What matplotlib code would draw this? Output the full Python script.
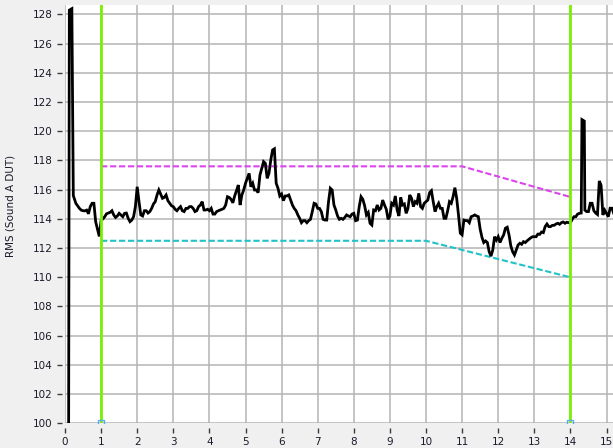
import numpy as np
import matplotlib
matplotlib.use("Agg")
import matplotlib.pyplot as plt

# --- measured RMS trace (seconds, dB) ---
onset_t = [0.10, 0.12, 0.19, 0.23]
onset_rms = [99.0, 128.3, 128.4, 115.6]

# samples on the 0.1 s grid, starting at 0.3 s
trace_start = 0.3
trace_step = 0.1
trace_rms = [
    115.07, 114.72, 114.56, 114.60, 114.84, 115.07, 113.30, 113.90, 114.15, 114.40,
    114.56, 114.10, 114.38, 114.15, 114.40, 113.81, 114.15, 116.20, 114.27, 114.56,
    114.40, 114.72, 115.18, 115.98, 115.41, 115.64, 115.07, 114.84, 114.56, 114.84,
    114.50, 114.72, 114.84, 114.50, 114.84, 115.18, 114.61, 114.56, 114.33, 114.50,
    114.61, 114.72, 115.52, 115.34, 115.57, 116.32, 115.64, 116.44, 117.12, 116.44,
    115.98, 117.00, 117.92, 116.78, 118.03, 118.80, 116.10, 115.70, 115.57, 115.64,
    114.95, 114.56, 114.04, 113.88, 113.74, 113.97, 115.07, 114.72, 114.50, 113.92,
    115.18, 115.98, 114.61, 113.97, 113.97, 114.27, 114.15, 114.38, 113.92, 115.52,
    114.90, 114.44, 113.58, 114.56, 114.61, 115.29, 114.66, 114.20, 114.95, 114.61,
    115.47, 115.02, 114.72, 115.41, 115.18, 115.75, 114.72, 115.18, 115.80, 115.18,
    114.84, 114.72, 114.04, 114.56, 115.07, 116.14, 114.27, 112.91, 113.88, 113.74,
    114.20, 114.20, 113.30, 112.38, 112.38, 111.45, 112.78, 112.78, 112.67, 113.36,
    112.90, 111.75, 111.87, 112.33, 112.44, 112.50, 112.70, 112.78, 112.96, 113.10,
    113.47, 113.47, 113.56, 113.65, 113.63, 113.79, 113.77, 113.74, 114.15, 114.33,
    114.40, 114.60, 114.50, 115.07, 114.40, 116.60, 114.27, 114.38, 114.73, 114.38,
]

# in-between samples, offset by half a step (0.35 s, 0.45 s, ...)
mid_start = 0.35
mid_rms = [
    114.90, 114.60, 114.55, 114.35, 115.07, 113.80, 112.80, 114.00, 114.35, 114.45,
    114.27, 114.20, 114.27, 114.38, 114.04, 113.92, 114.84, 115.18, 114.20, 114.56,
    114.50, 115.02, 115.64, 115.70, 115.47, 115.25, 114.90, 114.66, 114.72, 114.56,
    114.72, 114.84, 114.72, 114.56, 114.95, 114.61, 114.66, 114.72, 114.33, 114.56,
    114.66, 114.95, 115.47, 115.10, 115.93, 114.95, 115.98, 116.78, 116.20, 115.98,
    115.80, 117.46, 117.80, 117.12, 118.72, 116.44, 115.57, 115.25, 115.57, 115.29,
    114.72, 114.27, 113.74, 113.88, 113.88, 114.50, 115.02, 114.72, 113.97, 113.92,
    116.10, 114.95, 114.20, 114.04, 114.10, 114.20, 114.33, 113.88, 114.84, 115.34,
    114.27, 113.70, 114.61, 114.95, 114.72, 114.95, 113.97, 115.07, 115.57, 114.20,
    114.95, 114.38, 115.64, 114.84, 115.07, 114.84, 115.07, 115.29, 115.93, 114.50,
    115.07, 114.72, 114.04, 115.18, 115.52, 115.41, 113.02, 113.92, 113.88, 114.15,
    114.27, 114.15, 112.74, 112.49, 111.75, 111.87, 112.55, 112.38, 112.90, 113.43,
    112.15, 111.53, 112.21, 112.26, 112.38, 112.60, 112.78, 112.78, 112.94, 113.06,
    113.65, 113.47, 113.56, 113.70, 113.74, 113.70, 113.74, 113.97, 114.15, 114.38,
    120.75, 114.50, 115.07, 114.56, 114.30, 116.30, 114.60, 114.15, 114.73,
]

# short burst edges near the end of the record
burst_t = [14.32, 14.385]
burst_rms = [120.8, 120.7]

# tolerance mask (upper / lower limit)
upper_t = [1, 11, 14]
upper_rms = [117.6, 117.6, 115.5]
lower_t = [1, 10, 14]
lower_rms = [112.5, 112.5, 110.0]

# measurement window cursors
cursor_t = [1, 14]

x_ticks = list(range(0, 16))
y_ticks = list(range(100, 129, 2))
y_label = "RMS (Sound A DUT)"

# merge all trace samples in time order
main_t = trace_start + trace_step * np.arange(len(trace_rms))
mid_t = mid_start + trace_step * np.arange(len(mid_rms))
t_all = np.concatenate([onset_t, main_t, mid_t, burst_t])
v_all = np.concatenate([onset_rms, trace_rms, mid_rms, burst_rms])
order = np.argsort(t_all, kind="stable")
t_all, v_all = t_all[order], v_all[order]

fig = plt.figure(figsize=(6.13, 4.48), dpi=100, facecolor="#f0f0f0")
ax = fig.add_axes([65 / 613, 24.7 / 448, 548 / 613, 418.3 / 448])
ax.set_facecolor("white")

ax.set_xlim(0, 15.18)
ax.set_ylim(100, 128.65)
ax.set_xticks(x_ticks)
ax.set_yticks(y_ticks)

ax.grid(True, color="#b4b4b4", linewidth=1.1, zorder=0)
ax.set_axisbelow(True)

for side in ("top", "right", "bottom", "left"):
    ax.spines[side].set_visible(False)
ax.spines["left"].set_position(("outward", 2.5))
ax.spines["bottom"].set_position(("outward", 3.5))

ax.tick_params(axis="both", direction="out", length=3.6, width=1.0,
               color="#3a3a3a", labelsize=7.5, labelcolor="#1a1a2a", pad=2.6)

# limit lines
ax.plot(upper_t, upper_rms, color="#dd44ee", linewidth=1.5,
        dashes=(3, 1.3), zorder=2)
ax.plot(lower_t, lower_rms, color="#22c2c8", linewidth=1.5,
        dashes=(3, 1.3), zorder=2)

# RMS trace
ax.plot(t_all, v_all, color="black", linewidth=2.0, solid_joinstyle="miter",
        zorder=3)

# cursors
for t in cursor_t:
    ax.axvline(t, color="#7cf000", linewidth=2.0, zorder=4)
    ax.plot([t], [100], marker="s", markersize=4, markerfacecolor="none",
            markeredgecolor="#5aaaf0", markeredgewidth=1.0, zorder=5)

ax.set_ylabel(y_label, fontsize=7.5, color="#1a1a2a")
ax.yaxis.set_label_coords(-0.091, 0.52)

fig.savefig("out.png", dpi=100, facecolor=fig.get_facecolor())
